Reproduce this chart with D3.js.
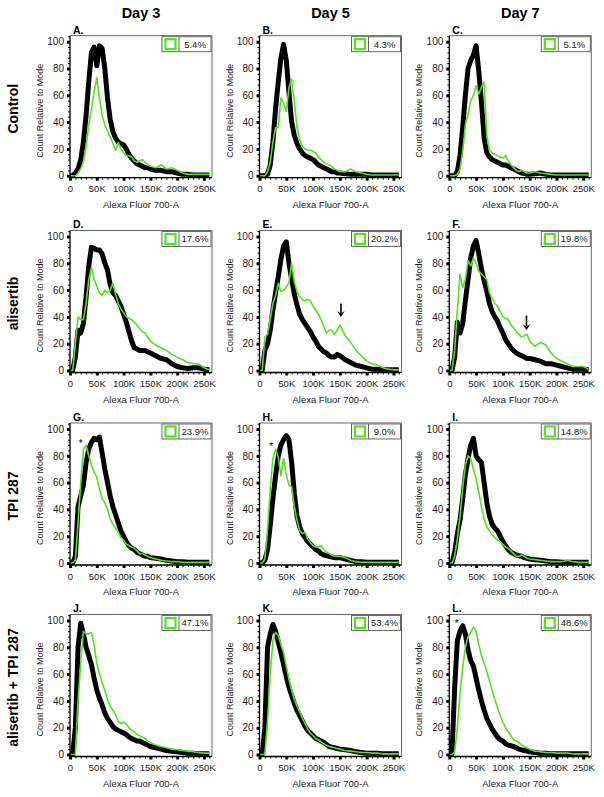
<!DOCTYPE html>
<html>
<head>
<meta charset="utf-8">
<script src="https://cdn.jsdelivr.net/npm/d3@7/dist/d3.min.js"></script>
<style>
  body { margin: 0; background: #fff; }
  text { font-family: "Liberation Sans", Arial, sans-serif; }
</style>
</head>
<body>
<svg id="fig" width="604" height="797"></svg>
<script>
/** Column and row headers */
var days = ["Day 3", "Day 5", "Day 7"];
var treatments = ["Control", "alisertib", "TPI 287", "alisertib + TPI 287"];
var panelLetters = ["A.", "B.", "C.", "D.", "E.", "F.", "G.", "H.", "I.", "J.", "K.", "L."];
var percents = ["5.4%", "4.3%", "5.1%", "17.6%", "20.2%", "19.8%", "23.9%", "9.0%", "14.8%", "47.1%", "53.4%", "48.6%"];

/** Histogram bins, Alexa Fluor 700-A in thousands */
var binsK = [0, 5, 10, 15, 20, 25, 30, 35, 40, 45, 50, 55, 60, 65, 70, 75, 80, 85, 90, 95, 100,
  105, 110, 115, 120, 125, 130, 135, 140, 145, 150, 160, 170, 180, 190, 200, 210, 220, 230, 240, 250, 260];

/** Count relative to mode: black = reference, green = sample */
var blackA = [0,0,2,5,12,25,45,70,92,96,82,97,95,80,58,42,33,28,25,24,23,20,16,13,11,9,8,7,6,6,5,4,4,3,3,2,1,1,0.5,0.5,0.5,0.5];
var greenA = [0,0,0,2,5,10,22,38,50,62,73,58,45,38,33,29,24,19,25,20,17,15,15,14,11,10,11,12,10,8,7,6,8,5,6,4,2,1,1,1,1,1];
var blackB = [0,0,0,1,8,25,50,70,88,98,86,62,40,30,24,20,17,15,14,13,12,10,8,7,6,5,4,3,3,2,2,1.5,1,1,1,1,0.5,0.5,0.5,0.5,0.5,0.5];
var greenB = [0,0,0,3,10,25,36,36,58,54,48,66,72,55,36,27,22,20,19,19,18,17,14,12,10,9,8,7,5,4,3,3,5,3,2,1,0.5,0.5,0.5,0.5,0.5,0.5];
var blackC = [0,0,0,3,15,36,60,80,86,90,97,78,55,28,17,14,12,11,10,9,8,8,7,6,5,4,3,2,1.5,1,1,1.5,2,1,0.5,0.5,0.5,0.5,0.5,0.5,0.5,0.5];
var greenC = [0,0,0,1,5,18,38,46,56,60,67,61,66,70,30,19,17,16,15,14,13,15,11,8,6,4,3,4,3,2,2,3,2,1.5,1,0.5,0.5,0.5,0.5,0.5,0.5,0.5];
var blackD = [0,0,10,30,28,35,55,78,92,91,90,90,87,80,75,64,58,56,52,48,42,36,29,22,17,16,15,15,15,14,13,11,9,8,5,3,2,1.5,2,2,1,0.5];
var greenD = [0,0,20,40,38,38,50,68,77,68,63,58,56,60,58,60,65,57,50,46,43,40,39,38,36,34,31,29,28,25,22,19,17,15,12,10,8,6,5,5,2,0.5];
var blackE = [0,0,15,20,30,45,58,70,83,93,96,80,68,57,49,42,38,35,32,29,25,22,18,16,14,13,11,10,10,12,11,8,6,4,3,2,1,1,0.5,0.5,0.5,0.5];
var greenE = [0,0,25,27,38,50,56,65,59,60,62,66,80,66,59,55,53,52,53,52,48,45,42,38,33,28,30,30,27,30,34,26,21,15,11,7,5,4,2,1,0.5,0.5];
var blackF = [0,0,10,36,28,35,52,68,84,93,97,87,76,67,59,50,44,40,37,32,28,23,20,17,15,13,12,11,10,9,9,8,7,5,5,4,3,2,1,1,1,0.5];
var greenF = [0,0,15,45,72,62,68,82,78,84,80,74,72,70,68,58,54,50,48,44,40,39,38,34,32,29,27,25,26,27,22,18,21,19,13,9,7,5,3,3,3,1];
var blackG = [0,0,5,42,50,58,75,85,90,93,92,94,82,70,60,50,42,36,30,24,20,16,13,11,10,8,7,6,5,5,4,3.5,3,2,1.5,1,1,0.5,0.5,0.5,0.5,0.5];
var greenG = [0,0,2,30,60,85,88,80,73,68,64,55,48,45,40,33,29,26,23,19,17,14,13,12,11,9,7,7,6,5,4,3,2,1.5,1,1,0.5,0.5,0.5,0.5,0.5,0.5];
var blackH = [0,0,2,10,28,48,65,80,88,92,95,92,75,52,35,27,22,19,16,14,12,10,9,7,6,5.5,5,4.5,4,4,4,3,2,1,1,0.5,0.5,0.5,0.5,0.5,0.5,0.5];
var greenH = [0,0,3,25,55,78,85,79,65,78,66,58,57,42,32,24,22,23,18,15,13,12,12,13,10,8,7,6,5,5,5,4,2,1,0.5,0.5,0.5,0.5,0.5,0.5,0.5,0.5];
var blackI = [0,0,8,22,32,48,66,78,88,93,80,77,75,60,45,35,29,26,24,20,16,13,10,8,7,6,5.5,5,4,3.5,3,2.5,2,1.5,1,1,0.5,0.5,0.5,0.5,0.5,0.5];
var greenI = [0,0,5,18,35,56,73,80,78,70,63,53,42,33,27,24,21,19,17,16,14,12,11,9,7,5,5,6,5,3.5,3,2.5,2,1.5,1,1,1,2,1,0.5,0.5,0.5];
var blackJ = [0,0,20,80,98,90,80,74,67,57,48,42,37,31,27,24,21,19,18,17,16,15,13,12,11,10,10,9,8,7,6,5,4,3,2.5,2,1.5,1,1,0.5,0.5,0.5];
var greenJ = [0,0,0,40,68,92,90,90,91,82,68,60,54,48,41,36,33,30,25,23,24,23,20,18,17,15,14,13,12,10,9,7,6,5,4,3.5,3,2.5,2,1.5,1,1];
var blackK = [0,0,20,80,90,97,92,84,76,67,58,50,44,38,33,29,25,21,18,16,14,12,11,10,9,7.5,6,5.5,5,4.5,4,3.5,3,2,1.5,1,1,1,0.5,0.5,0.5,0.5];
var greenK = [0,0,0,25,60,85,91,89,82,76,66,56,48,41,36,32,27,23,19,16,14,12,11,9.5,8,7,6,5.5,5,4.5,4,3,2.5,2,1.5,1.5,1,1,0.5,0.5,0.5,0.5];
var blackL = [0,0,50,85,92,96,90,78,70,66,57,48,40,33,27,23,19,16,13,11,10,8,7,6.5,6,5,4,3.5,3,2.5,2,1.5,1,1,0.5,0.5,0.5,0.5,0.5,0.5,0.5,0.5];
var greenL = [0,0,2,20,45,65,80,88,91,95,92,82,74,68,62,55,48,41,35,29,24,20,17,14,11,10,9,7,6,5,4,2.5,2,1.5,1.5,1,1,1,0.5,0.5,0.5,0.5];

var blackSeries = [blackA, blackB, blackC, blackD, blackE, blackF, blackG, blackH, blackI, blackJ, blackK, blackL];
var greenSeries = [greenA, greenB, greenC, greenD, greenE, greenF, greenG, greenH, greenI, greenJ, greenK, greenL];

/** Axis ticks */
var xTicks = [0, 50, 100, 150, 200, 250];
var yTicks = [0, 20, 40, 60, 80, 100];

/** Annotations: arrows (x in K, from y to y) and asterisks */
var arrows = [{panel: 4, x: 152, from: 50, to: 40}, {panel: 5, x: 144, from: 41, to: 30}];
var asterisks = [{panel: 6, x: 20, y: 90}, {panel: 7, x: 22, y: 88}, {panel: 11, x: 14, y: 99}];

/** Layout */
var colLeft = [70, 259.5, 449.3];
var rowZero = [175.7, 370.5, 563, 754.5];
var plotW = 142;
var plotH = 134;      // pixel height for 0..100
var green = "#55e022";

var svg = d3.select("#fig");

days.forEach(function(d, c) {
  svg.append("text")
    .attr("x", colLeft[c] + plotW / 2)
    .attr("y", 18)
    .attr("text-anchor", "middle")
    .style("font-size", "14.5px")
    .style("font-weight", "bold")
    .text(d);
});

treatments.forEach(function(t, r) {
  var cy = rowZero[r] - plotH / 2;
  svg.append("text")
    .attr("transform", "translate(13," + cy + ") rotate(-90)")
    .attr("text-anchor", "middle")
    .attr("dominant-baseline", "central")
    .style("font-size", "14px")
    .style("font-weight", "bold")
    .text(t);
});

var line = function(xs, ys) {
  return d3.line()
    .x(function(d, i) { return xs(binsK[i]); })
    .y(function(d) { return ys(d); });
};

/** Draw one histogram panel */
var drawPanel = function(p) {
  var r = Math.floor(p / 3), c = p % 3;
  var left = colLeft[c], y0 = rowZero[r];
  var x = d3.scaleLinear().domain([0, 265]).range([left, left + plotW]);
  var y = d3.scaleLinear().domain([0, 100]).range([y0, y0 - plotH]);
  var top = y(104.5), axisY = y0 + 2;
  var g = svg.append("g");

  g.append("clipPath").attr("id", "clip" + p)
    .append("rect").attr("x", left).attr("y", top)
    .attr("width", plotW).attr("height", axisY - top);

  /** frame */
  g.append("path")
    .attr("d", "M" + left + "," + top + "H" + (left + plotW) + "V" + axisY)
    .attr("fill", "none").attr("stroke", "#666").attr("stroke-width", 1);

  /** curves */
  var curves = g.append("g").attr("clip-path", "url(#clip" + p + ")");
  curves.append("path")
    .attr("d", line(x, y)(blackSeries[p]))
    .attr("fill", "none").attr("stroke", "#000")
    .attr("stroke-width", 5).attr("stroke-linejoin", "round");
  curves.append("path")
    .attr("d", line(x, y)(greenSeries[p]))
    .attr("fill", "none").attr("stroke", green)
    .attr("stroke-width", 1.6).attr("stroke-linejoin", "round");

  /** y axis */
  var yMinor = d3.range(4, 105, 4).filter(function(v) { return v % 20 !== 0; });
  var ya = g.append("g").attr("transform", "translate(" + left + ",0)")
    .call(d3.axisLeft(y).tickValues(yTicks).tickSize(3).tickPadding(3).tickSizeOuter(0));
  ya.selectAll(".tick line").attr("stroke-width", 3);
  ya.selectAll("text").style("font-size", "10px").attr("fill", "#222");
  ya.select(".domain").remove();
  var ym = g.append("g").attr("transform", "translate(" + left + ",0)")
    .call(d3.axisLeft(y).tickValues(yMinor).tickSize(2).tickFormat(""));
  ym.select(".domain").remove();

  /** x axis */
  var xMinor = d3.range(10, 265, 10).filter(function(v) { return v % 50 !== 0; });
  var xa = g.append("g").attr("transform", "translate(0," + axisY + ")")
    .call(d3.axisBottom(x).tickValues(xTicks).tickSize(3).tickPadding(5).tickSizeOuter(0)
      .tickFormat(function(v) { return v === 0 ? "0" : v + "K"; }));
  xa.selectAll(".tick line").attr("stroke-width", 3);
  xa.selectAll("text").style("font-size", "9.5px").attr("fill", "#222");
  xa.select(".domain").remove();
  var xm = g.append("g").attr("transform", "translate(0," + axisY + ")")
    .call(d3.axisBottom(x).tickValues(xMinor).tickSize(2).tickFormat(""));
  xm.select(".domain").remove();

  g.append("path")
    .attr("d", "M" + left + "," + top + "V" + axisY + "H" + (left + plotW))
    .attr("fill", "none").attr("stroke", "#000").attr("stroke-width", 1.3);

  /** axis titles */
  g.append("text")
    .attr("transform", "translate(" + (left - 30) + "," + (y0 - 65) + ") rotate(-90)")
    .attr("text-anchor", "middle")
    .attr("dominant-baseline", "central")
    .style("font-size", "9px").attr("fill", "#222")
    .text("Count Relative to Mode");
  g.append("text")
    .attr("x", left + plotW / 2).attr("y", y0 + 32)
    .attr("text-anchor", "middle")
    .style("font-size", "9.5px").attr("fill", "#222")
    .text("Alexa Fluor 700-A");

  /** panel letter */
  g.append("text")
    .attr("x", left + 3).attr("y", top - 2)
    .style("font-size", "10.5px").style("font-weight", "bold")
    .text(panelLetters[p]);

  /** legend box */
  var bw = 49, bh = 15, bx = left + plotW - bw - 1, by = top + 1;
  g.append("rect").attr("x", bx).attr("y", by).attr("width", bw).attr("height", bh)
    .attr("fill", "#fff").attr("stroke", "#666").attr("stroke-width", 1);
  g.append("rect").attr("x", bx + 3.5).attr("y", by + 2.5).attr("width", 10).attr("height", 10)
    .attr("fill", "#fff").attr("stroke", green).attr("stroke-width", 2.2);
  g.append("line").attr("x1", bx + 17).attr("x2", bx + 17).attr("y1", by).attr("y2", by + bh)
    .attr("stroke", "#666");
  g.append("text")
    .attr("x", (bx + 17 + bx + bw) / 2).attr("y", by + 11)
    .attr("text-anchor", "middle")
    .style("font-size", "9.5px").attr("fill", "#222")
    .text(percents[p]);

  /** annotations */
  arrows.filter(function(a) { return a.panel === p; }).forEach(function(a) {
    var ax = x(a.x), ay1 = y(a.from), ay2 = y(a.to);
    g.append("line").attr("x1", ax).attr("x2", ax).attr("y1", ay1).attr("y2", ay2 - 4)
      .attr("stroke", "#000").attr("stroke-width", 1.6);
    g.append("path")
      .attr("d", "M" + (ax - 3.8) + "," + (ay2 - 6) + "L" + ax + "," + ay2 + "L" + (ax + 3.8) + "," + (ay2 - 6) + "L" + ax + "," + (ay2 - 3.5) + "Z")
      .attr("fill", "#000");
  });
  asterisks.filter(function(a) { return a.panel === p; }).forEach(function(a) {
    g.append("text")
      .attr("x", x(a.x)).attr("y", y(a.y) + 5)
      .attr("text-anchor", "middle")
      .style("font-size", "10px")
      .text("*");
  });
};

d3.range(12).forEach(drawPanel);
</script>
</body>
</html>
